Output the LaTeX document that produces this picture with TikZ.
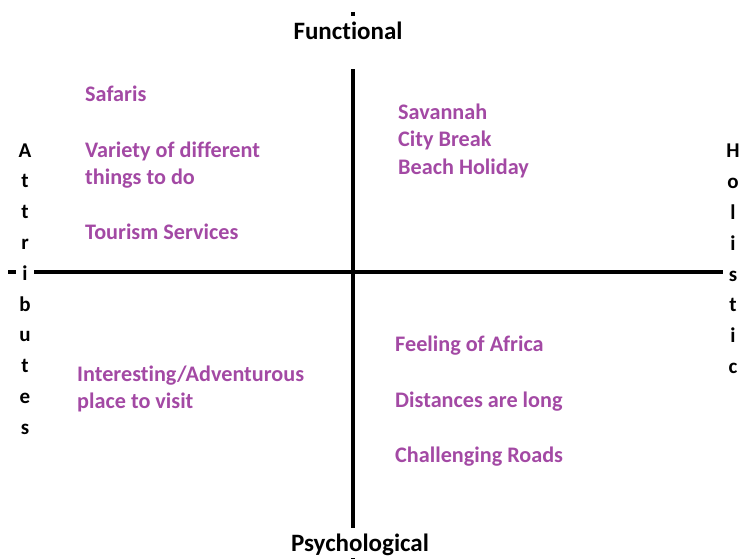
\documentclass[tikz,border=0pt]{standalone}
\usepackage{fontspec}
\setmainfont{Carlito}[Ligatures=NoCommon]
\definecolor{itempurple}{RGB}{163,73,164}
\tikzset{
  axis/.style={line width=4pt},
  axislabel/.style={fill=white, inner sep=2pt, font=\bfseries\fontsize{25}{28}\selectfont},
  sidelabel/.style={fill=white, inner sep=3pt, align=center, font=\bfseries\fontsize{21}{30.8}\selectfont},
  item/.style={anchor=base west, inner sep=0pt, text=itempurple, font=\bfseries\fontsize{22.2}{26}\selectfont}
}
\begin{document}
\begin{tikzpicture}[x=1pt,y=-1pt]
  \useasboundingbox (0,0) rectangle (743,559);
  % axes
  \coordinate (top) at (353,12);
  \coordinate (bot) at (353,559);
  \coordinate (lft) at (8,272);
  \coordinate (rgt) at (743,272);
  \draw [axis] (top) -- (bot);
  \draw [axis] (lft) -- (rgt);
  % axis labels
  \node [axislabel, anchor=base, text height=22pt, text depth=27pt] (func) at (348,40) {Functional};
  \node [axislabel, anchor=base, text height=21pt, text depth=5pt] (psych) at (360,551) {Psychological};
  \node [sidelabel] (attr) at (25,289) {A\\t\\t\\r\\i\\b\\u\\t\\e\\s};
  \node [sidelabel] (hol) at (733,259) {H\\o\\l\\i\\s\\t\\i\\c};
  % functional / attributes
  \node [item] (safaris) at (85,102) {Safaris};
  \node [item] (variety) at (85,157) {Variety of different};
  \node [item] (things) at (85,184) {things to do};
  \node [item] (tourism) at (85,239) {Tourism Services};
  % functional / holistic
  \node [item] (savannah) at (398,119) {Savannah};
  \node [item] (city) at (398,146.5) {City Break};
  \node [item] (beach) at (398,174) {Beach Holiday};
  % psychological / attributes
  \node [item] (interest) at (77,381) {Interesting/Adventurous};
  \node [item] (place) at (77,408) {place to visit};
  % psychological / holistic
  \node [item] (feeling) at (395,351) {Feeling of Africa};
  \node [item] (dist) at (395,407) {Distances are long};
  \node [item] (roads) at (395,462) {Challenging Roads};
\end{tikzpicture}
\end{document}
